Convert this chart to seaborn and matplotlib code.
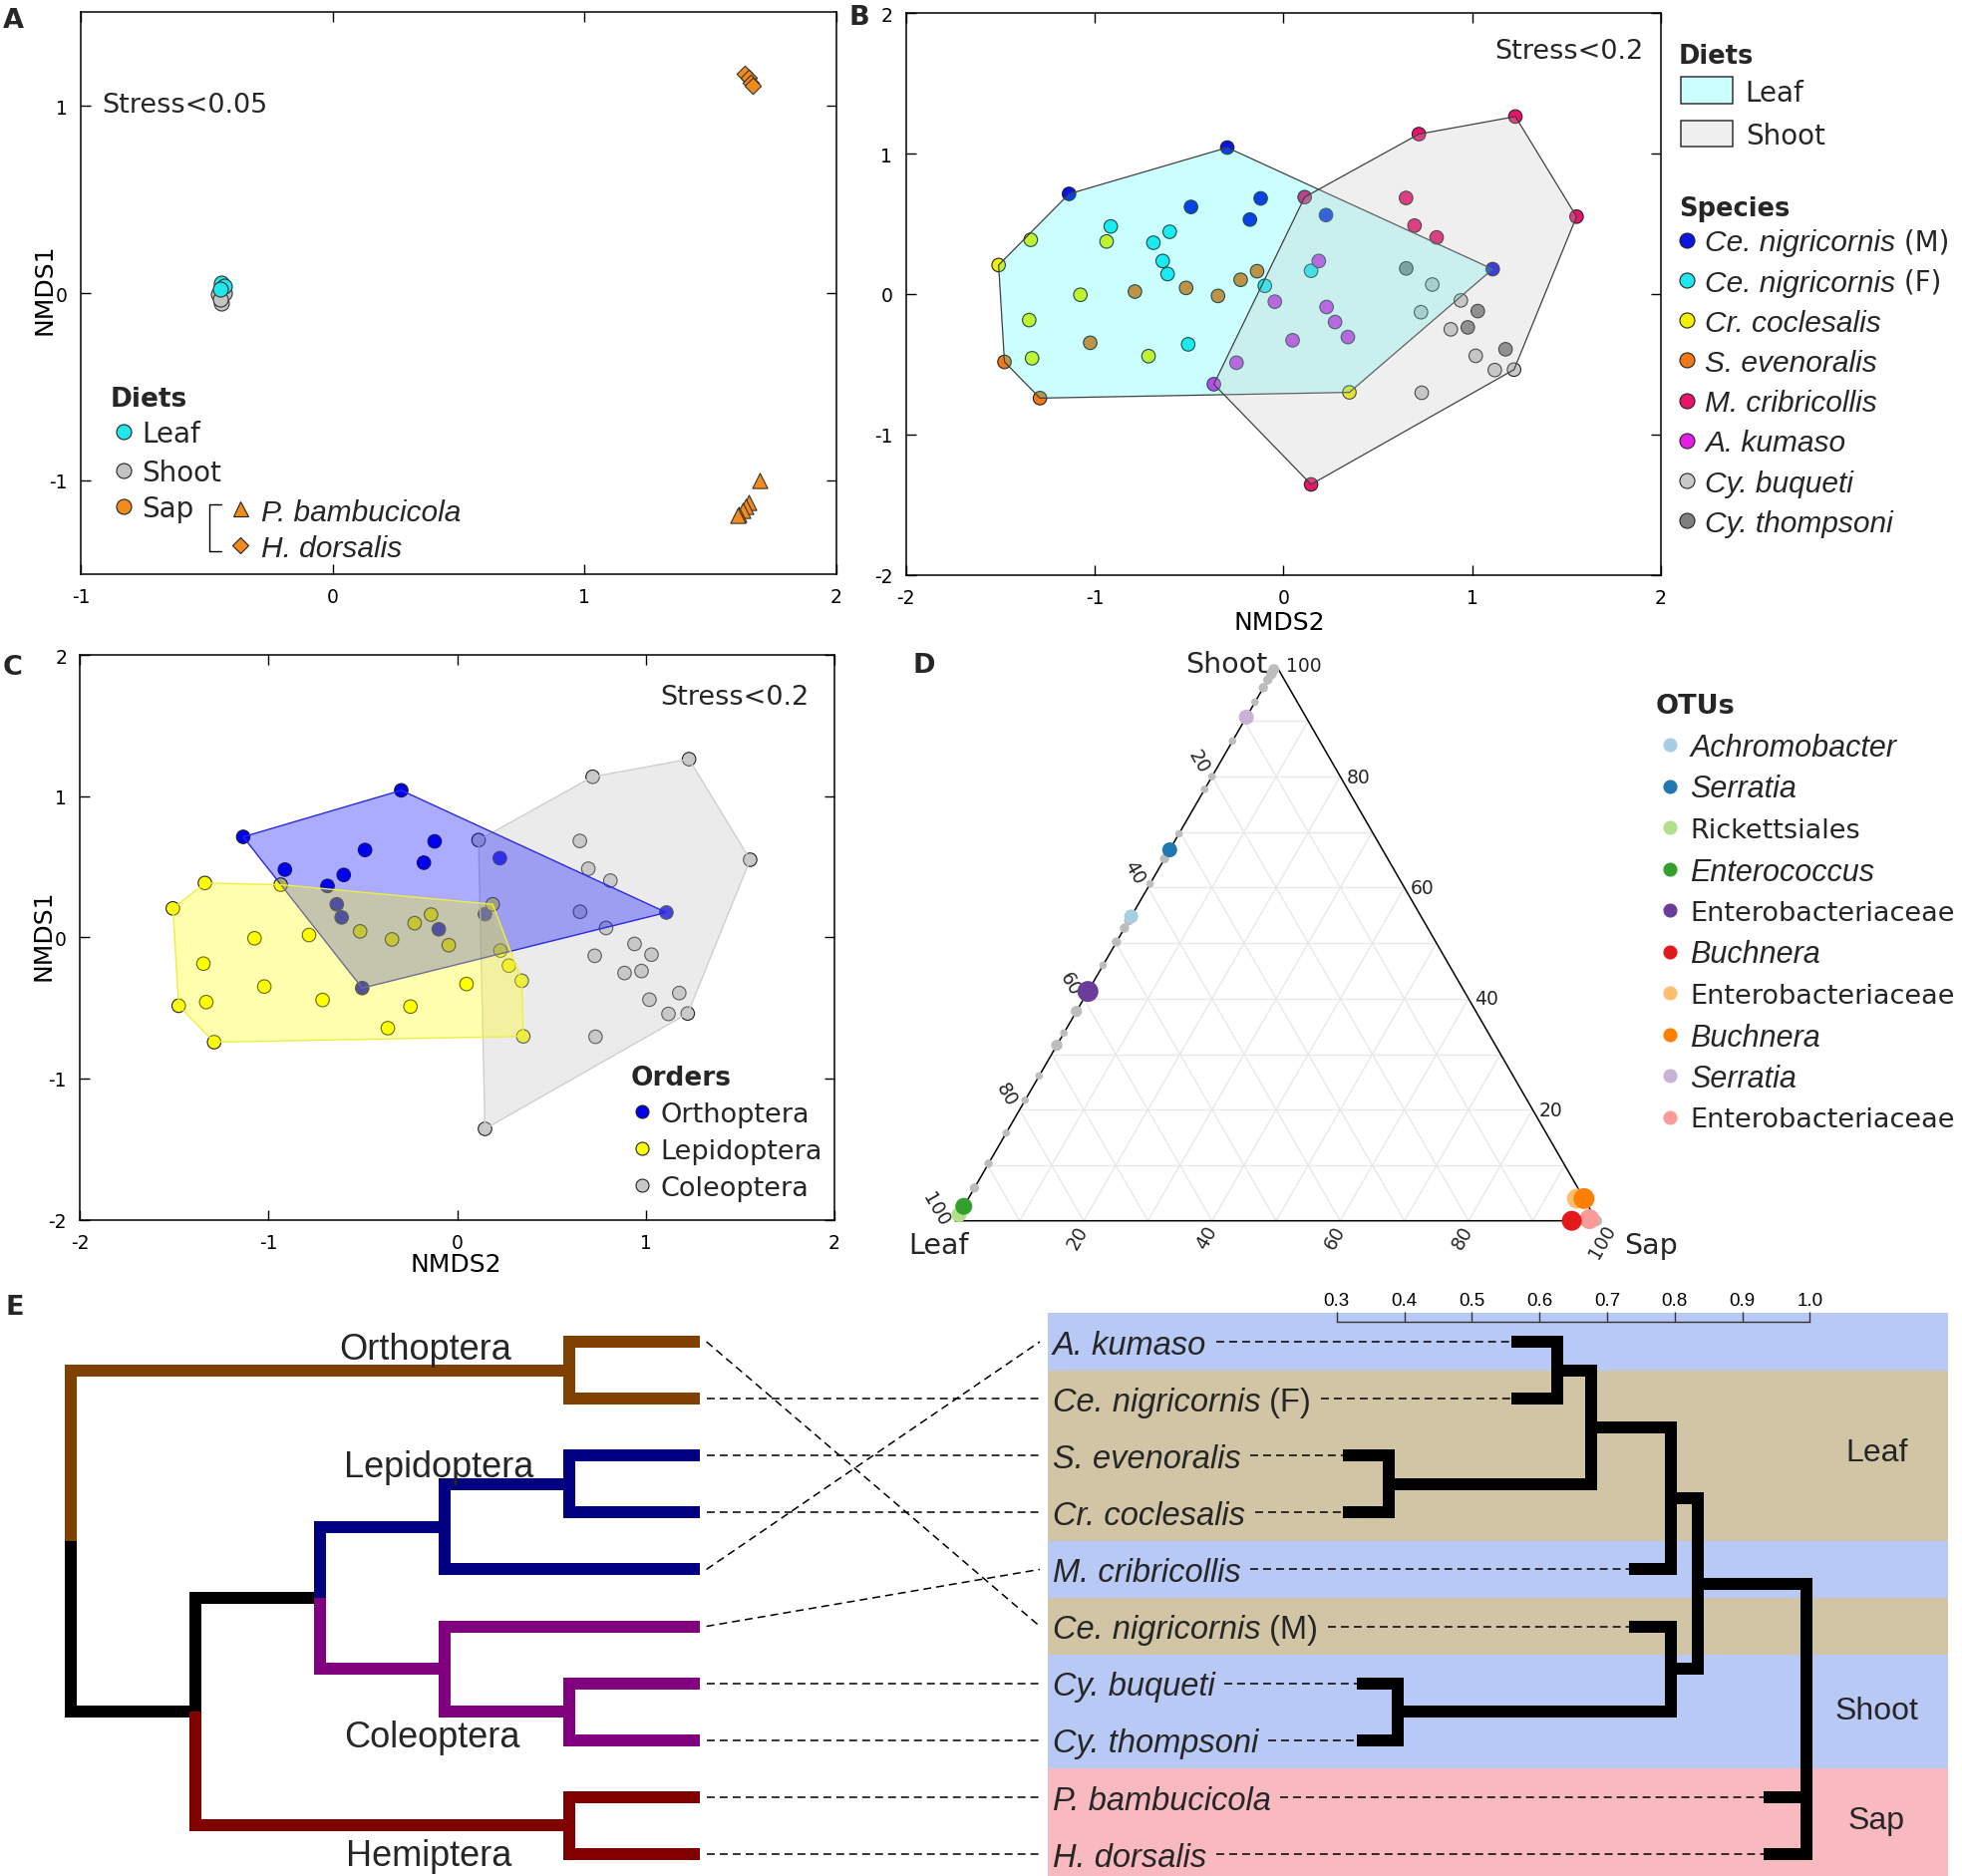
import matplotlib
matplotlib.use("Agg")
import matplotlib.colors as mcolors
import matplotlib.pyplot as plt
import numpy as np
import pandas as pd
import seaborn as sns
from matplotlib.lines import Line2D
from matplotlib.patches import Polygon, Rectangle

# ---------------- data ----------------
# A: NMDS of all diets (x = NMDS2, y = NMDS1)
a_leaf_x = [-0.442, -0.431, -0.446]
a_leaf_y = [0.051, 0.037, 0.020]
a_shoot_x = [-0.453, -0.442, -0.430, -0.447]
a_shoot_y = [-0.004, -0.051, 0.000, -0.030]
a_pbam_x = [1.695, 1.650, 1.640, 1.629, 1.614, 1.607]
a_pbam_y = [-1.002, -1.118, -1.139, -1.159, -1.180, -1.185]
a_hdor_x = [1.635, 1.650, 1.661, 1.667]
a_hdor_y = [1.173, 1.153, 1.126, 1.110]

# B / C: NMDS of leaf and shoot feeders
species = ["Ce. nigricornis (M)", "Ce. nigricornis (F)", "Cr. coclesalis", "S. evenoralis",
           "M. cribricollis", "A. kumaso", "Cy. buqueti", "Cy. thompsoni"]
species_diet = ["Leaf", "Leaf", "Leaf", "Leaf", "Shoot", "Shoot", "Shoot", "Shoot"]
species_order = ["Orthoptera", "Orthoptera", "Lepidoptera", "Lepidoptera",
                 "Coleoptera", "Lepidoptera", "Coleoptera", "Coleoptera"]
cem_x = [-0.297, -1.135, -0.489, -0.120, -0.177, 0.226, 1.109]
cem_y = [1.043, 0.713, 0.620, 0.681, 0.530, 0.562, 0.177]
cef_x = [-0.914, -0.602, -0.688, -0.639, -0.613, -0.098, 0.147, -0.504]
cef_y = [0.481, 0.443, 0.365, 0.235, 0.142, 0.058, 0.165, -0.359]
crc_x = [-1.508, -1.338, -0.936, -1.075, -1.346, -1.331, -0.714, 0.350]
crc_y = [0.206, 0.386, 0.374, -0.006, -0.186, -0.458, -0.443, -0.701]
sev_x = [-1.477, -1.289, -0.786, -0.515, -0.346, -0.226, -0.139, -1.023]
sev_y = [-0.484, -0.742, 0.017, 0.043, -0.014, 0.101, 0.162, -0.348]
mcr_x = [0.113, 0.718, 1.229, 1.553, 0.650, 0.695, 0.812, 0.147]
mcr_y = [0.690, 1.139, 1.264, 0.551, 0.684, 0.487, 0.403, -1.357]
aku_x = [0.188, -0.045, 0.229, 0.274, 0.342, 0.049, -0.248, -0.368]
aku_y = [0.235, -0.055, -0.093, -0.200, -0.307, -0.330, -0.490, -0.643]
cyb_x = [0.789, 0.729, 0.940, 0.887, 1.019, 1.120, 1.222, 0.733]
cyb_y = [0.067, -0.130, -0.046, -0.252, -0.441, -0.542, -0.539, -0.704]
cyt_x = [0.651, 1.030, 0.977, 1.177]
cyt_y = [0.182, -0.122, -0.238, -0.394]

# D: ternary plot of OTUs (leaf, shoot, sap percentages)
otu_names = ["Achromobacter", "Serratia", "Rickettsiales", "Enterococcus", "Enterobacteriaceae",
             "Buchnera", "Enterobacteriaceae", "Buchnera", "Serratia", "Enterobacteriaceae"]
otu_italic = [True, True, False, True, False, True, False, True, True, False]
otu_leaf = [45.2, 33.2, 98.9, 97.4, 58.7, 3.9, 1.1, 0.0, 9.3, 1.0]
otu_shoot = [54.8, 66.8, 1.1, 2.6, 41.3, 0.0, 4.0, 4.0, 90.7, 0.3]
otu_sap = [0.0, 0.0, 0.0, 0.0, 0.0, 96.1, 94.9, 96.0, 0.0, 98.7]
otu_abund = [3.4, 3.9, 3.9, 5.0, 7.6, 6.9, 6.9, 7.6, 3.9, 6.9]
bg_shoot = [99.3, 98.5, 97.4, 96.0, 93.4, 86.4, 80.0, 77.7, 69.7, 65.2, 60.7, 54.0,
            52.7, 50.2, 46.0, 37.7, 33.8, 31.6, 26.1, 21.7, 15.8, 10.3, 5.9, 0.0]
bg_sap = [0.0] * 23 + [100.0]
bg_abund = [2.0, 2.0, 1.5, 1.5, 1.0, 1.0, 1.0, 1.0, 1.0, 1.5, 1.0, 1.5,
            1.5, 1.5, 1.0, 2.2, 1.0, 2.2, 1.0, 1.0, 1.0, 1.2, 1.5, 2.0]

# E: host phylogeny (left) and bacterial community dendrogram (right)
tree_node = ["root", "ortho", "n2", "lepcol", "lep", "lep2", "col", "col2", "hemi"]
tree_parent = [None, "root", "root", "n2", "lepcol", "lep", "lepcol", "col", "n2"]
tree_rank = [0, 4, 1, 2, 3, 4, 3, 4, 4]
tip_parent = ["ortho", "ortho", "lep2", "lep2", "lep", "col", "col2", "col2", "hemi", "hemi"]
tip_to_row = [5, 1, 2, 3, 0, 4, 6, 7, 8, 9]
order_names = ["Orthoptera", "Lepidoptera", "Coleoptera", "Hemiptera"]
den_name = ["A. kumaso", "Ce. nigricornis", "S. evenoralis", "Cr. coclesalis", "M. cribricollis",
            "Ce. nigricornis", "Cy. buqueti", "Cy. thompsoni", "P. bambucicola", "H. dorsalis"]
den_suffix = ["", "(F)", "", "", "", "(M)", "", "", "", ""]
den_diet = ["Shoot", "Leaf", "Leaf", "Leaf", "Shoot", "Leaf", "Shoot", "Shoot", "Sap", "Sap"]
den_leaf_start = [0.558, 0.558, 0.310, 0.310, 0.733, 0.733, 0.330, 0.330, 0.931, 0.931]
den_merge = [(0, 1, 0.626), (2, 3, 0.377), (10, 11, 0.676), (12, 4, 0.795),
             (6, 7, 0.391), (5, 14, 0.795), (13, 15, 0.834)]
den_root = ([16, 8, 9], 0.995)

# ---------------- style ----------------
sns.set_theme(style="ticks")
plt.rcParams["font.family"] = ["DejaVu Sans"]
plt.rcParams["axes.unicode_minus"] = False

W, H = 1968, 1883
PX = 72 / 100
fig = plt.figure(figsize=(W / 100, H / 100), dpi=100)
fig.patch.set_facecolor("white")
renderer = fig.canvas.get_renderer()

species_colors = ["#0b14e0", "#22e6ee", "#f2f000", "#f07818", "#e8146c", "#e41ee6", "#c8c8c8", "#7f7f7f"]
diet_colors = {"Leaf": "#22e6ea", "Shoot": "#c4c4c4", "Sap": "#f28a1c"}
order_colors = {"Orthoptera": "#0000ea", "Lepidoptera": "#ffff00", "Coleoptera": "#c8c8c8"}
otu_colors = ["#a6cee3", "#1f78b4", "#b2df8a", "#33a02c", "#6a3d9a",
              "#e31a1c", "#fdbf6f", "#ff7f00", "#cab2d6", "#fb9a99"]
band_colors = {"Leaf": "#d1c5a5", "Shoot": "#b9c9f5", "Sap": "#f8b9c1"}
clade_colors = {"root": "black", "ortho": "#804000", "n2": "black", "lepcol": "black",
                "lep": "#000080", "lep2": "#000080", "col": "#800080", "col2": "#800080",
                "hemi": "#800000"}


def px_axes(l, t, r, b):
    return fig.add_axes([l / W, 1 - b / H, (r - l) / W, (b - t) / H])


def cap_text(x, y, s, size, ha="left", weight="normal", style="normal", family="DejaVu Sans", rotation=0):
    em = size / PX
    return fig.text(x / W, 1 - (y + 0.36 * em) / H, s, fontsize=size, ha=ha, va="baseline",
                    weight=weight, style=style, family=family, rotation=rotation)


def run_text(x, y, parts):
    for s, size, style, family in parts:
        t = cap_text(x, y, s, size, style=style, family=family)
        x = t.get_window_extent(renderer).x1
    return x


def key(x, y, color, marker="o", d=15, mec="#222222"):
    fig.add_artist(Line2D([x / W], [1 - y / H], transform=fig.transFigure, marker=marker,
                          ms=d * PX, mfc=color, mec=mec, mew=0.8, ls="none"))


def to_px(ax, x, y):
    dx, dy = ax.transData.transform((x, y))
    return dx, H - dy


def hull(xs, ys):
    pts = sorted(set(zip(xs, ys)))

    def cross(o, a, b):
        return (a[0] - o[0]) * (b[1] - o[1]) - (a[1] - o[1]) * (b[0] - o[0])

    lower, upper = [], []
    for p in pts:
        while len(lower) >= 2 and cross(lower[-2], lower[-1], p) <= 0:
            lower.pop()
        lower.append(p)
    for p in reversed(pts):
        while len(upper) >= 2 and cross(upper[-2], upper[-1], p) <= 0:
            upper.pop()
        upper.append(p)
    return lower[:-1] + upper[:-1]


def draw_hull(ax, xs, ys, fc, alpha, ec, lw, z):
    r, g, b = mcolors.to_rgb(fc)
    ax.add_patch(Polygon(hull(xs, ys), closed=True, facecolor=(r, g, b, alpha),
                         edgecolor=ec, linewidth=lw, zorder=z))


def nmds_style(ax, xlim, ylim, xt, yt):
    ax.set_xlim(*xlim)
    ax.set_ylim(*ylim)
    ax.set_xticks(xt)
    ax.set_yticks(yt)
    ax.tick_params(direction="in", length=7, width=1.0, top=True, right=True, labelsize=13.5,
                   pad=9.5, color="black", labelcolor="black")
    for sp in ax.spines.values():
        sp.set_color("black")
        sp.set_linewidth(1.1)
    ax.set_xlabel("")
    ax.set_ylabel("")


def set_label(axis, text, x, y):
    axis.set_label_text(text, fontsize=18, color="black")
    axis.set_label_coords(x, y)
    axis.label.set_va("center")
    axis.label.set_ha("center")


# ---------------- panel A ----------------
axA = px_axes(81, 13.4, 839, 576.7)
sns.scatterplot(x=a_shoot_x, y=a_shoot_y, color=diet_colors["Shoot"], s=117, edgecolor="#333333",
                linewidth=0.8, ax=axA, zorder=3)
sns.scatterplot(x=a_leaf_x, y=a_leaf_y, color=diet_colors["Leaf"], s=117, edgecolor="#333333",
                linewidth=0.8, ax=axA, zorder=4)
sns.scatterplot(x=a_pbam_x, y=a_pbam_y, color=diet_colors["Sap"], marker="^", s=120,
                edgecolor="#333333", linewidth=0.8, ax=axA, zorder=3)
sns.scatterplot(x=a_hdor_x, y=a_hdor_y, color=diet_colors["Sap"], marker="D", s=70,
                edgecolor="#333333", linewidth=0.8, ax=axA, zorder=3)
nmds_style(axA, (-1, 2), (-1.5, 1.5), [-1, 0, 1, 2], [-1, 0, 1])
set_label(axA.yaxis, "NMDS1", (44.7 - 81) / 758, (576.7 - 290) / 563.3)
cap_text(102, 103, "Stress<0.05", 19.5)
cap_text(111, 398.5, "Diets", 19, weight="bold")
for i, d in enumerate(["Leaf", "Shoot", "Sap"]):
    y = [434.4, 472.6, 509][i]
    key(123.6, y, diet_colors[d])
    cap_text(142, y, d, 20)
fig.add_artist(Line2D(np.array([222, 210, 210, 222]) / W, 1 - np.array([507, 507, 554, 554]) / H,
                      transform=fig.transFigure, color="black", lw=1.0))
key(241, 511, diet_colors["Sap"], marker="^", d=15)
key(241, 548, diet_colors["Sap"], marker="D", d=11)
cap_text(262, 512, "P. bambucicola", 21.5, style="italic", family="Liberation Sans")
cap_text(262, 548, "H. dorsalis", 21.5, style="italic", family="Liberation Sans")

# ---------------- panels B and C data ----------------
sp_x = [cem_x, cef_x, crc_x, sev_x, mcr_x, aku_x, cyb_x, cyt_x]
sp_y = [cem_y, cef_y, crc_y, sev_y, mcr_y, aku_y, cyb_y, cyt_y]
df = pd.concat([pd.DataFrame({"nmds2": sp_x[i], "nmds1": sp_y[i], "species": species[i],
                              "diet": species_diet[i], "order": species_order[i]})
                for i in range(len(species))], ignore_index=True)

# ---------------- panel B ----------------
axB = px_axes(908.5, 14.3, 1666, 577.5)
sns.scatterplot(data=df, x="nmds2", y="nmds1", hue="species", hue_order=species,
                palette=species_colors, s=95, edgecolor="#222222", linewidth=0.8,
                legend=False, ax=axB, zorder=2)
leaf = df[df["diet"] == "Leaf"]
shoot = df[df["diet"] == "Shoot"]
draw_hull(axB, leaf["nmds2"], leaf["nmds1"], "#00ffff", 0.2, "#404040", 0.9, 3)
draw_hull(axB, shoot["nmds2"], shoot["nmds1"], "#c3c3c3", 0.25, "#404040", 0.9, 4)
nmds_style(axB, (-2, 2), (-2, 2), [-2, -1, 0, 1, 2], [-2, -1, 0, 1, 2])
set_label(axB.xaxis, "NMDS2", (1283.5 - 908.5) / 757.5, (577.5 - 624.5) / 563.2)
cap_text(1648.6, 49, "Stress<0.2", 19.5, ha="right")

cap_text(1684, 54.4, "Diets", 18.5, weight="bold")
for (top, bot), d, fc, a in [((78.3, 105), "Leaf", "#00ffff", 0.2), ((121.7, 148.3), "Shoot", "#c3c3c3", 0.25)]:
    r, g, b = mcolors.to_rgb(fc)
    fig.add_artist(Rectangle((1685.7 / W, 1 - bot / H), 52 / W, (bot - top) / H, transform=fig.transFigure,
                             facecolor=(r, g, b, a), edgecolor="#333333", lw=1.1))
    cap_text(1750.7, (top + bot) / 2, d, 20)
cap_text(1684, 207.7, "Species", 18.5, weight="bold")
for i, name in enumerate(species):
    y = 241.7 + 40.2 * i
    key(1691.7, y, species_colors[i])
    base, _, tail = name.partition(" (")
    parts = [(base, 21.5, "italic", "Liberation Sans")]
    if tail:
        parts.append((" (" + tail, 20, "normal", "DejaVu Sans"))
    run_text(1710, y, parts)

# ---------------- panel C ----------------
axC = px_axes(80.3, 658.4, 837, 1224.5)
sns.scatterplot(data=df, x="nmds2", y="nmds1", hue="order", palette=order_colors, s=95,
                edgecolor="#222222", linewidth=0.8, legend=False, ax=axC, zorder=2)
for o, fc, a, ec, z in [("Coleoptera", "#c8c8c8", 0.35, "#cfcfcf", 3),
                        ("Orthoptera", "#0000ff", 0.33, "#2a2ae0", 4),
                        ("Lepidoptera", "#ffff00", 0.32, "#eeee44", 5)]:
    sub = df[df["order"] == o]
    draw_hull(axC, sub["nmds2"], sub["nmds1"], fc, a, ec, 1.0, z)
nmds_style(axC, (-2, 2), (-2, 2), [-2, -1, 0, 1, 2], [-2, -1, 0, 1, 2])
set_label(axC.yaxis, "NMDS1", (43.5 - 80.3) / 756.7, (1224.5 - 938) / 566.1)
set_label(axC.xaxis, "NMDS2", (457 - 80.3) / 756.7, (1224.5 - 1268.6) / 566.1)
cap_text(812, 697, "Stress<0.2", 19.5, ha="right")
cap_text(633, 1080, "Orders", 19, weight="bold")
for i, o in enumerate(["Orthoptera", "Lepidoptera", "Coleoptera"]):
    y = 1116 + 37 * i
    key(644, y, order_colors[o], d=13)
    cap_text(662, y, o, 19.5)

# ---------------- panel D ----------------
def tern_xy(l, s, p):
    l, s, p = np.asarray(l, float), np.asarray(s, float), np.asarray(p, float)
    tot = l + s + p
    return p / tot + 0.5 * s / tot, s / tot * np.sqrt(3) / 2


axD = px_axes(894.07, 604.3, 1666.03, 1290.03)
axD.set_xlim(-0.1, 1.1)
axD.set_ylim(-0.1, 0.966)
axD.axis("off")
for f in range(10, 100, 10):
    for a, b in [((100 - f, f, 0), (0, f, 100 - f)), ((f, 100 - f, 0), (f, 0, 100 - f)),
                 ((100 - f, 0, f), (0, 100 - f, f))]:
        xa, ya = tern_xy(*a)
        xb, yb = tern_xy(*b)
        axD.plot([xa, xb], [ya, yb], color="#e8e8e8", lw=1.0, zorder=1)
cx, cy = tern_xy([100, 0, 0, 100], [0, 0, 100, 0], [0, 100, 0, 0])
axD.plot(cx, cy, color="black", lw=1.1, zorder=2)

bg_leaf = [100 - s - p for s, p in zip(bg_shoot, bg_sap)]
bx, by = tern_xy(bg_leaf, bg_shoot, bg_sap)
sns.scatterplot(x=bx, y=by, size=bg_abund, sizes=(30, 240), size_norm=(1, 8), color="#bdbdbd",
                linewidth=0, legend=False, ax=axD, zorder=3)
ox, oy = tern_xy(otu_leaf, otu_shoot, otu_sap)
dfo = pd.DataFrame({"x": ox, "y": oy, "otu": [f"otu{i}" for i in range(10)], "abund": otu_abund})
dfo = dfo.iloc[[9, 0, 1, 2, 3, 4, 6, 7, 5, 8]]
sns.scatterplot(data=dfo, x="x", y="y", hue="otu", palette={f"otu{i}": c for i, c in enumerate(otu_colors)},
                size="abund", sizes=(30, 240), size_norm=(1, 8), linewidth=0, legend=False, ax=axD, zorder=4)

for v in [20, 40, 60, 80, 100]:
    x, y = tern_xy(v, 100 - v, 0)
    dx, dy = (-0.021, 0.024) if v < 100 else (-0.030, 0.019)
    axD.text(x + dx, y + dy, str(v), rotation=-60, ha="center", va="center", fontsize=13.5)
    x, y = tern_xy(100 - v, 0, v)
    dx, dy = (-0.009, -0.025) if v < 100 else (0.008, -0.032)
    axD.text(x + dx, y + dy, str(v), rotation=60, ha="center", va="center", fontsize=13.5)
    x, y = tern_xy(0, v, 100 - v)
    axD.text(x + (0.010 if v < 100 else 0.015), y, str(v), ha="left", va="center", fontsize=13.5)
for name, (x, y) in [("Shoot", (0.423, 0.872)), ("Leaf", (-0.027, -0.035)), ("Sap", (1.085, -0.035))]:
    px_, py_ = to_px(axD, x, y)
    cap_text(px_, py_, name, 20.5, ha="center")

cap_text(1660.7, 706, "OTUs", 19.5, weight="bold")
for i, name in enumerate(otu_names):
    y = 748 + 41.5 * i
    key(1674.6, y, otu_colors[i], d=13, mec=otu_colors[i])
    if otu_italic[i]:
        cap_text(1695.4, y, name, 22, style="italic", family="Liberation Sans")
    else:
        cap_text(1695.4, y, name, 19.5)

# ---------------- panel E ----------------
row_top, row_bot = (1290 - 1347) / 57.1, (1883 - 1347) / 57.1
rank_px0, rank_step = 71.4, 124.9
tip_rank = 5.05

axT = px_axes(40, 1290, 1051, 1883)
axT.set_xlim((40 - rank_px0) / rank_step, (1051 - rank_px0) / rank_step)
axT.set_ylim(row_bot, row_top)
axT.axis("off")

node_rank = dict(zip(tree_node, tree_rank))
node_parent = dict(zip(tree_node, tree_parent))
children = {n: [] for n in tree_node}
for n, p in zip(tree_node, tree_parent):
    if p:
        children[p].append(("node", n))
for i, p in enumerate(tip_parent):
    children[p].append(("tip", i))
node_y = {}


def y_of(item):
    kind, key_ = item
    if kind == "tip":
        return float(key_)
    if key_ not in node_y:
        ys = [y_of(c) for c in children[key_]]
        node_y[key_] = (min(ys) + max(ys)) / 2
    return node_y[key_]


y_of(("node", "root"))
tree_lw = 12 * PX
for n in tree_node:
    for kind, c in children[n]:
        cy_ = y_of((kind, c))
        if kind == "tip":
            cr, col = tip_rank, clade_colors[n]
        else:
            cr, col = node_rank[c], clade_colors[c]
        axT.plot([node_rank[n], node_rank[n], cr], [node_y[n], cy_, cy_], color=col, lw=tree_lw,
                 solid_joinstyle="miter", solid_capstyle="butt", clip_on=False, zorder=2)

conn_end = (1043 - rank_px0) / rank_step
for i, r in enumerate(tip_to_row):
    axT.plot([tip_rank + 6.5 / rank_step, conn_end], [i, r], color="black", lw=1.1,
             dashes=(5.2, 3.3), clip_on=False, zorder=1)
for name, (x, y) in zip(order_names, [(2.847, 0.07), (2.95, 2.13), (2.90, 6.88), (2.875, 8.96)]):
    px_, py_ = to_px(axT, x, y)
    cap_text(px_, py_, name, 26, ha="center", family="Liberation Sans")

axDen = px_axes(1051, 1290, 1954, 1883)
axDen.set_xlim(0.3 + (1051 - 1340.7) / 678, 0.3 + (1954 - 1340.7) / 678)
axDen.set_ylim(row_bot, row_top)
axDen.axis("off")
for i, d in enumerate(den_diet):
    axDen.axhspan(i - 0.5, i + 0.5, color=band_colors[d], lw=0, zorder=0)

pos = [(den_leaf_start[i], float(i)) for i in range(10)]
for a, b, h in den_merge:
    (xa, ya), (xb, yb) = pos[a], pos[b]
    axDen.plot([xa, h, h, xb], [ya, ya, yb, yb], color="black", lw=tree_lw,
               solid_joinstyle="miter", solid_capstyle="butt", zorder=3)
    pos.append((h, (ya + yb) / 2))
root_kids, root_h = den_root
ys = [pos[k][1] for k in root_kids]
top_k, bot_k = root_kids[int(np.argmin(ys))], root_kids[int(np.argmax(ys))]
axDen.plot([pos[top_k][0], root_h, root_h, pos[bot_k][0]], [pos[top_k][1], pos[top_k][1], pos[bot_k][1], pos[bot_k][1]],
           color="black", lw=tree_lw, solid_joinstyle="miter", solid_capstyle="butt", zorder=3)
for k in root_kids:
    if k not in (top_k, bot_k):
        axDen.plot([pos[k][0], root_h], [pos[k][1], pos[k][1]], color="black", lw=tree_lw,
                   solid_capstyle="butt", zorder=3)

for i in range(10):
    _, yp = to_px(axDen, 0, i)
    parts = [(den_name[i], 23.5, "italic", "Liberation Sans")]
    if den_suffix[i]:
        parts.append((" " + den_suffix[i], 23.5, "normal", "Liberation Sans"))
    x_end = run_text(1055.5, yp, parts)
    x0 = axDen.transData.inverted().transform((x_end + 10, H - yp))[0]
    axDen.plot([x0, den_leaf_start[i]], [i, i], color="black", lw=1.1, dashes=(5.2, 3.3), zorder=2)
for name, y in [("Leaf", 1.89), ("Shoot", 6.42), ("Sap", 8.35)]:
    px_, py_ = to_px(axDen, 1.099, y)
    cap_text(px_, py_, name, 23, ha="center", family="Liberation Sans")

axS = px_axes(1340.7, 1317, 1815.4, 1327)
axS.set_xlim(0.3, 1.0)
axS.set_xticks(np.arange(0.3, 1.001, 0.1))
axS.set_xticklabels([f"{v:.1f}" for v in np.arange(0.3, 1.001, 0.1)], family="Liberation Sans")
axS.set_yticks([])
axS.patch.set_visible(False)
for s in ["top", "left", "right"]:
    axS.spines[s].set_visible(False)
axS.spines["bottom"].set_color("#333333")
axS.spines["bottom"].set_linewidth(1.0)
axS.tick_params(axis="x", direction="in", length=10 * PX, width=1.0, color="#333333", bottom=True,
                top=False, labelbottom=False, labeltop=True, pad=2, labelsize=13.5, labelcolor="black")

# ---------------- panel letters ----------------
for letter, x, y in [("A", 2.7, 18.6), ("B", 851, 15.3), ("C", 3, 667.5), ("D", 915, 665.5), ("E", 5, 1309.5)]:
    cap_text(x, y, letter, 19.5, weight="bold")

fig.savefig("out.png", dpi=100, facecolor="white")
